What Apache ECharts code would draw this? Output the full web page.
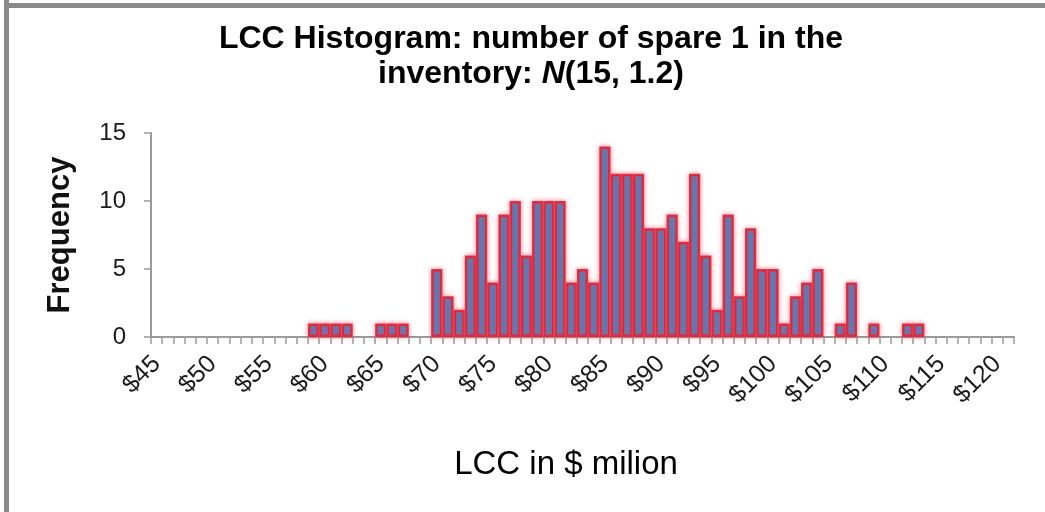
<!DOCTYPE html>
<html>
<head>
<meta charset="utf-8">
<script src="https://cdn.jsdelivr.net/npm/echarts@6/dist/echarts.min.js"></script>
<style>
html,body{margin:0;padding:0;background:#fff;}
#chart{width:1045px;height:512px;}
</style>
</head>
<body>
<div id="chart"></div>
<script>
// LCC bins ($ million) — tick labels shown every 5th
var categories = ['$45','$46','$47','$48','$49','$50','$51','$52','$53','$54','$55','$56','$57','$58','$59','$60','$61','$62','$63','$64','$65','$66','$67','$68','$69','$70','$71','$72','$73','$74','$75','$76','$77','$78','$79','$80','$81','$82','$83','$84','$85','$86','$87','$88','$89','$90','$91','$92','$93','$94','$95','$96','$97','$98','$99','$100','$101','$102','$103','$104','$105','$106','$107','$108','$109','$110','$111','$112','$113','$114','$115','$116','$117','$118','$119','$120','$121'];
var frequency = [0,0,0,0,0,0,0,0,0,0,0,0,0,0,1,1,1,1,0,0,1,1,1,0,0,5,3,2,6,9,4,9,10,6,10,10,10,4,5,4,14,12,12,12,8,8,9,7,12,6,2,9,3,8,5,5,1,3,4,5,0,1,4,0,1,0,0,1,1,0,0,0,0,0,0,0,0];
var yTicks = [0, 5, 10, 15];

var FONT = '"Liberation Sans", Arial, sans-serif';
var chart = echarts.init(document.getElementById('chart'));
chart.setOption({
  animation: false,
  backgroundColor: '#ffffff',
  grid: { left: 151, right: 31, top: 133, bottom: 175, containLabel: false },
  xAxis: {
    type: 'category',
    data: categories,
    boundaryGap: true,
    axisLine: { show: true, lineStyle: { color: '#9a9a9a', width: 2 } },
    axisTick: { show: true, interval: 0, length: 7, lineStyle: { color: '#9a9a9a', width: 1.5 } },
    axisLabel: { interval: 4, rotate: 45, margin: 23, fontFamily: FONT, fontSize: 25, color: '#1a1a1a' },
    splitLine: { show: false }
  },
  yAxis: {
    type: 'value',
    min: yTicks[0],
    max: yTicks[yTicks.length - 1],
    interval: 5,
    name: 'Frequency',
    nameLocation: 'middle',
    nameRotate: 90,
    nameGap: 75,
    nameTextStyle: { fontFamily: FONT, fontSize: 31, fontWeight: 'bold', color: '#111' },
    axisLine: { show: true, lineStyle: { color: '#9a9a9a', width: 2 } },
    axisTick: { show: true, length: 7, lineStyle: { color: '#9a9a9a', width: 1.5 } },
    axisLabel: { margin: 25, fontFamily: FONT, fontSize: 24, color: '#1a1a1a' },
    splitLine: { show: false }
  },
  series: [{
    type: 'bar',
    data: frequency.map(function (v) { return v === 0 ? null : v; }),
    barCategoryGap: '0%',
    itemStyle: {
      color: '#4F81BD',
      borderColor: 'rgba(222,36,56,0.9)',
      borderWidth: 2.5,
      shadowBlur: 5,
      shadowColor: 'rgba(255,60,80,0.6)'
    }
  }],
  graphic: [
    { type: 'rect', left: 4, top: 0, shape: { width: 5, height: 512 }, style: { fill: '#8a8a8a' }, z: 100 },
    { type: 'rect', left: 4, top: 3, shape: { width: 1041, height: 5 }, style: { fill: '#8a8a8a' }, z: 100 },
    { type: 'text', x: 531, y: 39, style: { text: 'LCC Histogram: number of spare 1 in the', textAlign: 'center', textVerticalAlign: 'middle', font: 'bold 32px ' + FONT, fill: '#000' }, z: 100 },
    { type: 'text', x: 531, y: 74, style: {
        text: '{a|inventory: }{b|N}{a|(15, 1.2)}', textAlign: 'center', textVerticalAlign: 'middle',
        rich: {
          a: { fontFamily: FONT, fontSize: 32, fontWeight: 'bold', fill: '#000' },
          b: { fontFamily: FONT, fontSize: 32, fontWeight: 'bold', fontStyle: 'italic', fill: '#000' }
        }
      }, z: 100 },
    { type: 'text', x: 566, y: 465, style: { text: 'LCC in $ milion', textAlign: 'center', textVerticalAlign: 'middle', font: '33px ' + FONT, fill: '#000' }, z: 100 }
  ]
});
</script>
</body>
</html>
